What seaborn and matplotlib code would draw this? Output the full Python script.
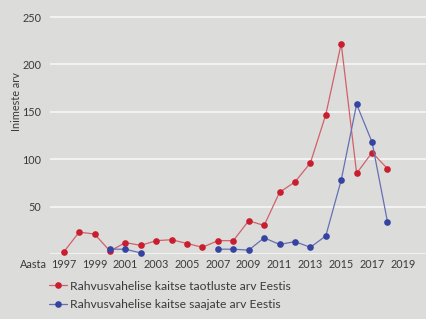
import pandas as pd
import numpy as np
import matplotlib
matplotlib.use('Agg')
import matplotlib.pyplot as plt
import seaborn as sns
from matplotlib.lines import Line2D

years = list(range(1997, 2019))
taotlused = [2, 23, 21, 3, 12, 9, 14, 15, 11, 7, 14, 14, 35, 30, 65, 76, 96, 147, 222, 85, 107, 90]
saajad = [np.nan, np.nan, np.nan, 5, 5, 1, np.nan, np.nan, np.nan, np.nan, 5, 5, 4, 17, 10, 13, 7, 19, 78, 158, 118, 34]

red_label = 'Rahvusvahelise kaitse taotluste arv Eestis'
blue_label = 'Rahvusvahelise kaitse saajate arv Eestis'

rows = []
for i, y in enumerate(years):
    rows.append({'Aasta': y, 'arv': taotlused[i], 'seeria': red_label, 'seg': 0})
seg = 0
for i, y in enumerate(years):
    if np.isnan(saajad[i]):
        seg += 1
        continue
    rows.append({'Aasta': y, 'arv': saajad[i], 'seeria': blue_label, 'seg': seg + 100})
df = pd.DataFrame(rows)

sns.set_style('white')
plt.rcParams['font.family'] = ['Lato', 'DejaVu Sans']
txt = '#3a3a3a'
bg = '#dcdcdb'

fig = plt.figure(figsize=(4.26, 3.19), dpi=100)
fig.patch.set_facecolor(bg)
ax = fig.add_axes([0.117, 0.204, 0.883, 0.796])
ax.set_facecolor(bg)

palette = {red_label: '#c81e30', blue_label: '#3444a0'}
light = {'#c81e30': '#d2606b', '#3444a0': '#6570b3'}
sns.lineplot(data=df, x='Aasta', y='arv', hue='seeria', units='seg', estimator=None,
             hue_order=[red_label, blue_label], palette=palette, marker='o',
             markersize=4.8, markeredgewidth=0, linewidth=0.9, ax=ax, legend=False)
for ln in ax.lines:
    ln.set_clip_on(False)
    c = matplotlib.colors.to_hex(ln.get_color())
    if c in light:
        ln.set_markerfacecolor(c)
        ln.set_color(light[c])

ax.set_xlim(1996.1, 2020.5)
ax.set_ylim(0, 268)
ax.set_yticks([50, 100, 150, 200, 250])
ax.set_xticks(list(range(1997, 2020, 2)))
ax.set_xticks(list(range(1997, 2020)), minor=True)
ax.grid(axis='y', color='white', linewidth=1.1, alpha=0.85)
ax.axhline(0, color='white', linewidth=1.1, alpha=0.85, zorder=0)
for s in ax.spines.values():
    s.set_visible(False)
ax.tick_params(axis='x', which='both', direction='in', length=4, color='white', width=1,
               labelsize=7.8, labelcolor=txt, pad=4)
ax.tick_params(axis='y', length=0, labelsize=7.8, labelcolor=txt, pad=6)
ax.set_xlabel('')
ax.set_ylabel('Inimeste arv', fontsize=7.8, color=txt)
ax.yaxis.set_label_coords(-0.075, 0.6)
fig.text(0.047, 0.17, 'Aasta', fontsize=7.8, color=txt, va='center')

handles = [Line2D([], [], color=light[palette[k]], markerfacecolor=palette[k], marker='o',
                  markersize=4.8, markeredgewidth=0, lw=0.9)
           for k in [red_label, blue_label]]
fig.legend(handles, [red_label, blue_label], loc='upper left', bbox_to_anchor=(0.115, 0.12),
           frameon=False, fontsize=8.7, handlelength=1.5, handletextpad=0.2, labelspacing=0.62,
           labelcolor=txt, borderaxespad=0, borderpad=0)

fig.savefig('out.png', dpi=100, facecolor=bg)
